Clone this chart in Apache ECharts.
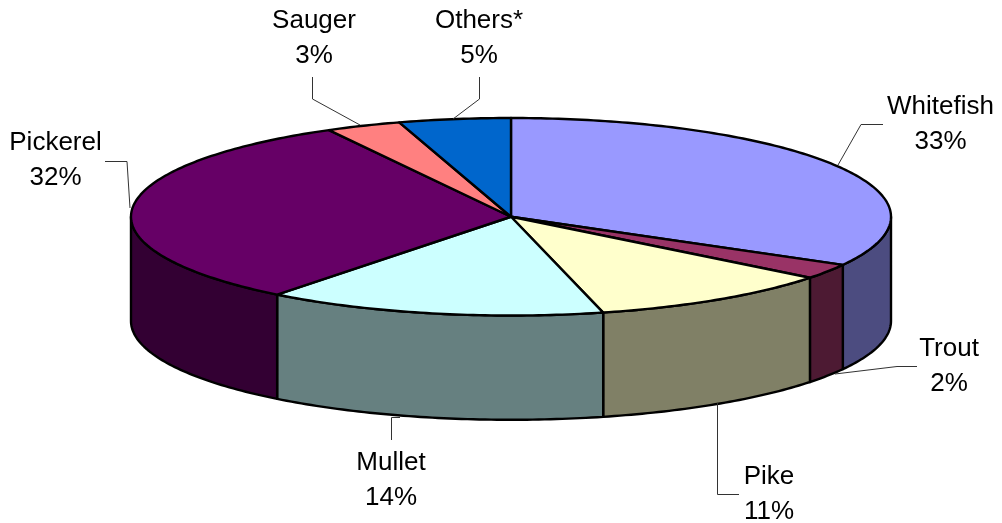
<!DOCTYPE html>
<html>
<head>
<meta charset="utf-8">
<style>
  html, body { margin: 0; background: #fff; }
  #main { width: 1002px; height: 523px; }
</style>
<script src="https://cdn.jsdelivr.net/npm/echarts@6/dist/echarts.min.js"></script>
</head>
<body>
<div id="main"></div>
<script>
// values, clockwise from 12 o'clock
const names = ['Whitefish', 'Trout', 'Pike', 'Mullet', 'Pickerel', 'Sauger', 'Others*'];
const values = [33.1, 2.49, 10.51, 14.45, 31.5, 3.2, 4.75];
const colors = ['#9999FF', '#993366', '#FFFFCC', '#CCFFFF', '#660066', '#FF8080', '#0066CC'];
const sideColors = ['#4C4C80', '#4D1A33', '#808066', '#668080', '#330033', '#804040', '#003366'];

// label centres and leader lines, in pixels
const labelPos = [[940.5, 124], [949, 366], [769, 494], [391, 480], [55.5, 160], [314, 38], [479, 38]];
const leaders = [
  [[838, 165], [861, 124.5], [883, 124.5]],
  [[835, 374], [897, 366.5], [917, 366.5]],
  [[717.5, 403], [717.5, 494.5], [739, 494.5]],
  [[400, 417.5], [391.5, 417.5], [391.5, 440]],
  [[130, 208], [127, 161.5], [105, 161.5]],
  [[360, 125], [312.5, 99], [312.5, 77]],
  [[453, 119], [479.5, 99], [479.5, 77]]
];

const DEPTH = 1.056; // wall height in units of the vertical radius

let sum = 0;
const slices = values.map(function (v, i) {
  const start = sum;
  sum += v;
  return [start, sum, i];
});

function pct2rad(p) {
  return p / 100 * Math.PI * 2;
}

function arcPoints(api, from, to, drop) {
  const pts = [];
  const steps = Math.max(2, Math.ceil((to - from) / 0.25));
  for (let k = 0; k <= steps; k++) {
    const a = pct2rad(from + (to - from) * k / steps);
    pts.push(api.coord([Math.sin(a), Math.cos(a) - drop]));
  }
  return pts;
}

function renderWall(params, api) {
  // only the front half of the rim (25%..75% of the turn) shows a wall
  const from = Math.max(api.value(0), 25);
  const to = Math.min(api.value(1), 75);
  if (to <= from) return null;
  const top = arcPoints(api, from, to, 0);
  const bottom = arcPoints(api, from, to, DEPTH).reverse();
  return {
    type: 'polygon',
    shape: { points: top.concat(bottom) },
    style: { fill: sideColors[api.value(2)], stroke: '#000', lineWidth: 2.4, lineJoin: 'round' }
  };
}

function renderTop(params, api) {
  const pts = [api.coord([0, 0])].concat(arcPoints(api, api.value(0), api.value(1), 0));
  return {
    type: 'polygon',
    shape: { points: pts },
    style: { fill: colors[api.value(2)], stroke: '#000', lineWidth: 2.4, lineJoin: 'round' }
  };
}

function renderLabel(params, api) {
  const i = api.value(2);
  return {
    type: 'group',
    children: [
      {
        type: 'polyline',
        shape: { points: leaders[i] },
        style: { fill: null, stroke: '#333', lineWidth: 1 }
      },
      {
        type: 'text',
        x: labelPos[i][0],
        y: labelPos[i][1],
        style: {
          text: names[i] + '\n' + Math.round(values[i]) + '%',
          fontFamily: '"Liberation Sans", Arial, sans-serif',
          fontSize: 26,
          lineHeight: 35,
          fill: '#000',
          align: 'center',
          verticalAlign: 'middle'
        }
      }
    ]
  };
}

const myChart = echarts.init(document.getElementById('main'), null, { renderer: 'canvas' });
myChart.setOption({
  backgroundColor: '#fff',
  animation: false,
  grid: { left: 131, top: 118, width: 760, height: 197.5 },
  xAxis: { type: 'value', min: -1, max: 1, show: false },
  yAxis: { type: 'value', min: -1, max: 1, show: false },
  series: [
    { type: 'custom', silent: true, z: 1, data: slices, renderItem: renderWall },
    { type: 'custom', silent: true, z: 2, data: slices, renderItem: renderTop },
    { type: 'custom', silent: true, z: 3, data: slices, renderItem: renderLabel }
  ]
});
</script>
</body>
</html>
